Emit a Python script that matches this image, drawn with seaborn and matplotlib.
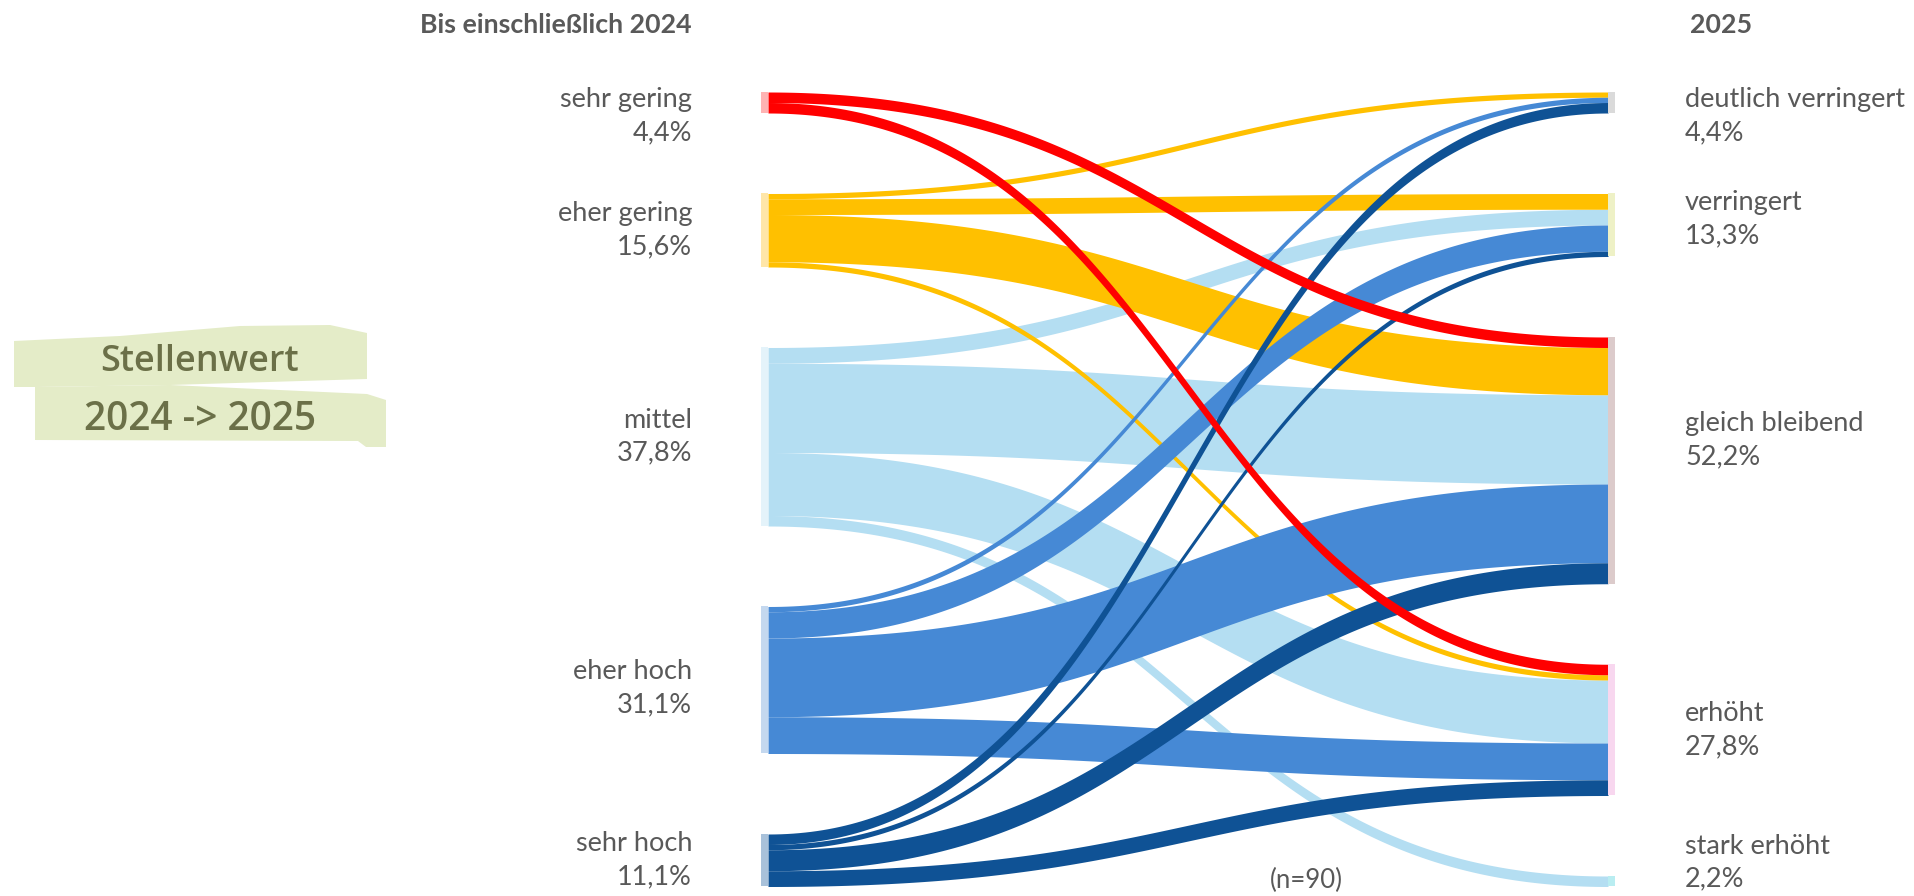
import matplotlib
matplotlib.use("Agg")
import matplotlib.pyplot as plt
import numpy as np
import seaborn as sns
from matplotlib.patches import Polygon

# Categories
left_labels = ["sehr gering", "eher gering", "mittel", "eher hoch", "sehr hoch"]
right_labels = ["deutlich verringert", "verringert", "gleich bleibend", "erhöht", "stark erhöht"]

# Number of respondents per transition (2024 category -> 2025 category, same order as right_labels)
from_sehr_gering = [0, 0, 2, 2, 0]
from_eher_gering = [1, 3, 9, 1, 0]
from_mittel = [0, 3, 17, 12, 2]
from_eher_hoch = [1, 5, 15, 7, 0]
from_sehr_hoch = [2, 1, 4, 3, 0]

# Colours
flow_colors = ["#FF0000", "#FFC000", "#B4DEF2", "#4689D5", "#0F5295"]
left_bar_colors = ["#FFB3B3", "#FFE6A8", "#E4F3FA", "#C4D8EF", "#A8C1DA"]
right_bar_colors = ["#DADADA", "#EEF1C6", "#DCCBCB", "#F8D7EF", "#B9EDF1"]

flows = np.array([from_sehr_gering, from_eher_gering, from_mittel,
                  from_eher_hoch, from_sehr_hoch])
n_total = flows.sum()
left_totals = flows.sum(axis=1)
right_totals = flows.sum(axis=0)

sns.set_theme(style="white")
plt.rcParams["font.family"] = ["Lato", "DejaVu Sans"]

W, H = 1914, 896
fig = plt.figure(figsize=(W / 100, H / 100), dpi=100)
ax = fig.add_axes([0, 0, 1, 1])
ax.set_xlim(0, W)
ax.set_ylim(H, 0)
ax.axis("off")

# layout (pixels)
TOP = 92
UNIT = 5.25
GAP = 80.5
X_LEFT = 761
X_RIGHT = 1608
BAR_W = 7
BOTTOM = TOP + n_total * UNIT + (len(left_labels) - 1) * GAP


def node_tops(totals):
    tops = []
    y = TOP
    for t in totals:
        tops.append(y)
        y += t * UNIT + GAP
    return np.array(tops)


left_tops = node_tops(left_totals)
right_tops = node_tops(right_totals)

# stacking positions of every flow at both ends
left_pos = np.zeros(flows.shape)
right_pos = np.zeros(flows.shape)
for i in range(flows.shape[0]):
    y = left_tops[i]
    for j in range(flows.shape[1]):
        left_pos[i, j] = y
        y += flows[i, j] * UNIT
for j in range(flows.shape[1]):
    y = right_tops[j]
    for i in range(flows.shape[0]):
        right_pos[i, j] = y
        y += flows[i, j] * UNIT

# flows as cubic bezier bands
t = np.linspace(0, 1, 200)
x0, x1 = X_LEFT + BAR_W, X_RIGHT
xm = (x0 + x1) / 2
xs = (1 - t) ** 3 * x0 + 3 * (1 - t) ** 2 * t * xm + 3 * (1 - t) * t ** 2 * xm + t ** 3 * x1
s = 3 * t ** 2 - 2 * t ** 3

draw_order = [2, 1, 3, 4, 0]
for i in draw_order:
    for j in range(flows.shape[1]):
        v = flows[i, j]
        if v == 0:
            continue
        ya = left_pos[i, j]
        yb = right_pos[i, j]
        top = ya + (yb - ya) * s
        ax.fill_between(xs, top, top + v * UNIT, color=flow_colors[i], lw=0)

# node bars
ax.bar(np.full(len(left_totals), X_LEFT), left_totals * UNIT, bottom=left_tops,
       width=BAR_W, align="edge", color=left_bar_colors, lw=0)
ax.bar(np.full(len(right_totals), X_RIGHT), right_totals * UNIT, bottom=right_tops,
       width=BAR_W, align="edge", color=right_bar_colors, lw=0)


def pct(v):
    return f"{100 * v / n_total:.1f}".replace(".", ",") + "%"


text_color = "#595959"
lab_size = 19.5
left_nudge = [0, 0, 0, 8, 0]
right_nudge = [0, -6, -20, 0, 0]
for i, lab in enumerate(left_labels):
    yc = left_tops[i] + left_totals[i] * UNIT / 2
    yc = min(max(yc, TOP + 24), BOTTOM - 24) + left_nudge[i]
    ax.text(692, yc, f"{lab}\n{pct(left_totals[i])}", ha="right", va="center",
            fontsize=lab_size, color=text_color, linespacing=1.4)
for j, lab in enumerate(right_labels):
    yc = right_tops[j] + right_totals[j] * UNIT / 2
    yc = min(max(yc, TOP + 24), BOTTOM - 24) + right_nudge[j]
    ax.text(1685, yc, f"{lab}\n{pct(right_totals[j])}", ha="left", va="center",
            fontsize=lab_size, color=text_color, linespacing=1.4)

# headers
ax.text(692, 25, "Bis einschließlich 2024", ha="right", va="center",
        fontsize=19.3, fontweight="bold", color=text_color)
ax.text(1690, 25, "2025", ha="left", va="center",
        fontsize=19.3, fontweight="bold", color=text_color)
ax.text(1306, 880, f"(n={n_total})", ha="center", va="center",
        fontsize=18.5, color=text_color)

# title badge on the left
badge = "#E4ECC8"
ax.add_patch(Polygon([(14, 341), (120, 336), (240, 326), (330, 325), (367, 333),
                      (367, 379), (170, 385), (35, 387), (14, 387)],
                     closed=True, color=badge, lw=0))
ax.add_patch(Polygon([(35, 387), (170, 385), (367, 394), (386, 400), (386, 447),
                      (366, 447), (358, 441), (35, 440)],
                     closed=True, color=badge, lw=0))
ax.text(200, 362, "Stellenwert", ha="center", va="center", fontsize=26,
        family="Open Sans", color="#6B7048", fontweight="semibold")
ax.text(200, 420, "2024 -> 2025", ha="center", va="center", fontsize=28,
        family="Open Sans", color="#6B7048", fontweight="semibold")

fig.savefig("out.png", dpi=100)
